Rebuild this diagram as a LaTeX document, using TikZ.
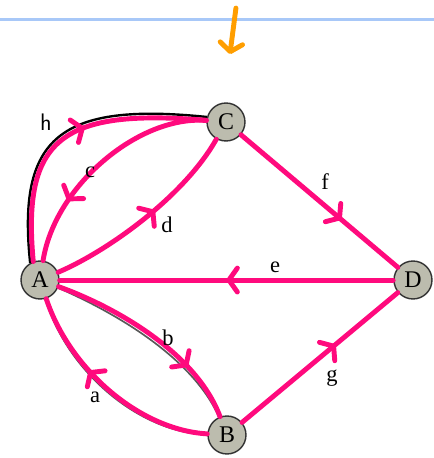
\documentclass[tikz,border=0pt]{standalone}
\usepackage{fontspec}
\setmainfont{Liberation Serif}
\definecolor{penpink}{RGB}{255, 10, 125}
\definecolor{penorange}{RGB}{255, 158, 0}
\definecolor{ruleblue}{RGB}{168, 200, 248}
\definecolor{vertexgray}{RGB}{188, 188, 174}
\usepackage{tikz}
\usetikzlibrary{arrows.meta, decorations.markings}
\tikzset{
    vertex/.style={circle, draw=black!80, line width=1pt, fill=vertexgray, minimum size=27pt, inner sep=0pt, font=\fontsize{17}{19}\selectfont},
    oldedge/.style={draw=black!65, line width=1.2pt},
    inkedge/.style={draw=penpink, line width=3.5pt, line cap=round},
    inkarrow/.style={postaction={decorate}, decoration={markings, mark=at position #1 with {\arrow[penpink]{Straight Barb[length=6pt, width=17pt, round]}}}},
    edgelabel/.style={font=\fontsize{16}{18}\selectfont},
}

\begin{document}
\begin{tikzpicture}[scale=0.025]
                    \useasboundingbox (0, 0) rectangle (434, 458);
                    % page rule and marker
                    \coordinate (ruleleft) at (0, 439);
                    \coordinate (ruleright) at (434, 439);
                    \coordinate (markertop) at (236, 450);
                    \coordinate (markertip) at (230, 404);
                    \draw[ruleblue, line width=2pt] (ruleleft) -- (ruleright);
                    \draw[penorange, line width=3.5pt, line cap=round, -{Straight Barb[length=6pt, width=16pt, round]}] (markertop) -- (markertip);
                    % vertices
                    \node[vertex] (A) at (40, 178) {A};
                    \node[vertex] (C) at (226, 336) {C};
                    \node[vertex] (D) at (413, 178) {D};
                    \node[vertex] (B) at (227, 23) {B};
                    % printed edges
                    \draw[oldedge] (A) .. controls (113, 211) and (189, 266) .. (C);
                    \draw[oldedge] (C) -- (D);
                    \draw[oldedge] (D) -- (A);
                    \draw[oldedge] (B) -- (D);
                    \draw[oldedge] (A) .. controls (107, 149) and (191, 104) .. (B);
                    \draw[oldedge] (B) .. controls (140, 25) and (67, 86) .. (A);
                    \draw[black, line width=1.7pt] (A.120) .. controls (17, 321) and (60, 356) .. (C.165);
                    % pen strokes
                    \draw[inkedge, inkarrow=0.56] (A.110) .. controls (22, 318) and (60, 350) .. (C.175);
                    \draw[inkedge, inkarrow=0.72] (C) .. controls (140, 343) and (55, 273) .. (A);
                    \draw[inkedge, inkarrow=0.55] (A) .. controls (110, 208) and (185, 263) .. (C);
                    \draw[inkedge, inkarrow=0.64] (C) -- (D);
                    \draw[inkedge, inkarrow=0.5] (D) -- (A);
                    \draw[inkedge, inkarrow=0.72] (A) .. controls (110, 153) and (195, 108) .. (B);
                    \draw[inkedge, inkarrow=0.62] (B) .. controls (140, 28) and (70, 88) .. (A);
                    \draw[inkedge, inkarrow=0.6] (B) -- (D);
                    % labels
                    \node[font=\sffamily\fontsize{17}{19}\selectfont] (hlabel) at (46, 336) {h};
                    \node[edgelabel] (clabel) at (90, 286) {c};
                    \node[edgelabel] (dlabel) at (167, 233) {d};
                    \node[edgelabel] (flabel) at (325, 276) {f};
                    \node[edgelabel] (elabel) at (275, 191) {e};
                    \node[edgelabel] (blabel) at (168, 120) {b};
                    \node[edgelabel] (alabel) at (95, 61) {a};
                    \node[edgelabel] (glabel) at (332, 80) {g};
                \end{tikzpicture}
\end{document}
